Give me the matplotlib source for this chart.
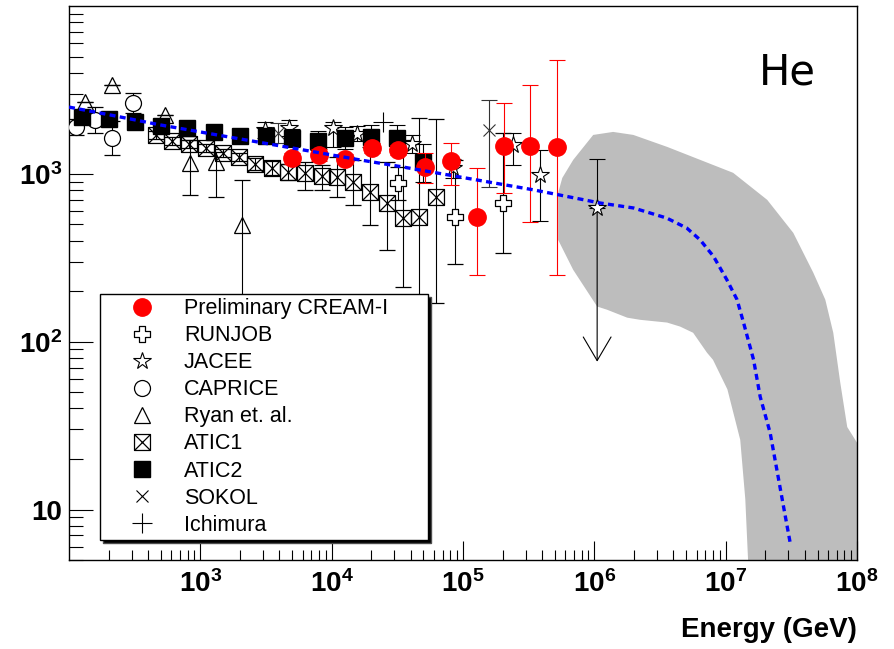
import matplotlib
matplotlib.use('Agg')
import matplotlib.pyplot as plt
from matplotlib.lines import Line2D
from matplotlib.path import Path
import numpy as np

plt.rcParams['font.family'] = ['Liberation Sans', 'DejaVu Sans']
plt.rcParams['mathtext.fontset'] = 'custom'
plt.rcParams['mathtext.bf'] = 'Liberation Sans:bold'
plt.rcParams['mathtext.rm'] = 'Liberation Sans:bold'

# --- data (energy in GeV, flux) ---
cream_e = [5.0e3, 8.0e3, 1.27e4, 2.03e4, 3.2e4, 5.1e4, 8.1e4, 1.28e5, 2.05e5, 3.25e5, 5.15e5]
cream_f = [1245, 1298, 1228, 1429, 1390, 1101, 1195, 555, 1468, 1468, 1449]
cream_lo = [1150, 1200, 1140, 1330, 1300, 884, 860, 251, 771, 518, 251]
cream_hi = [1340, 1400, 1320, 1530, 1480, 1334, 1530, 1085, 2650, 3390, 4770]

atic1_e = [460, 608, 820, 1104, 1489, 1972, 2612, 3516, 4656, 6266, 8453,
           1.1e4, 1.46e4, 1.96e4, 2.64e4, 3.5e4, 4.63e4, 6.24e4]
atic1_f = [1706, 1570, 1510, 1429, 1334, 1262, 1148, 1086, 1028, 1014, 973,
           959, 896, 781, 671, 547, 555, 729]
atic1_lo = [1620, 1490, 1430, 1350, 1260, 1190, 1060, 990, 920, 803, 803,
            729, 653, 497, 353, 212, 50, 171]
atic1_hi = [1800, 1660, 1600, 1510, 1410, 1340, 1240, 1190, 1150, 1179, 1131,
            1262, 1211, 1448, 1179, 1592, 2154, 2123]

atic2_e = [126, 200, 316, 500, 790, 1260, 2000, 3160, 5000, 7900, 1.26e4, 2.0e4, 3.16e4, 5.0e4]
atic2_f = [2183, 2123, 2042, 1932, 1880, 1778, 1683, 1683, 1637, 1570, 1637, 1660, 1637, 1178]
atic2_lo = [2100, 2040, 1960, 1850, 1790, 1680, 1570, 1550, 1450, 1380, 1400, 1420, 1400, 900]
atic2_hi = [2270, 2210, 2130, 2020, 1970, 1880, 1800, 1830, 1850, 1800, 1900, 1950, 1950, 1500]

caprice_e = [113, 158, 212, 307]
caprice_f = [1905, 2096, 1638, 2650]
caprice_lo = [1700, 1754, 1298, 2310]
caprice_hi = [2130, 2500, 2070, 3034]

ryan_e = [132, 212, 538, 835, 1318, 2080]
ryan_f = [2683, 3390, 2245, 1163, 1179, 497]
ryan_lo = [2683, 3390, 2245, 750, 729, 9]
ryan_hi = [2683, 3390, 2245, 1592, 1352, 920]

jacee_e = [3110, 4740, 1.03e4, 1.56e4, 4.09e4, 8.4e4, 2.41e5, 3.87e5, 1.05e6]
jacee_f = [1828, 1880, 1880, 1730, 1510, 1086, 1488, 986, 628]
jacee_lo = [1640, 1690, 1448, 1560, 1330, 950, 1131, 525, 628]
jacee_hi = [2030, 2080, 2042, 1920, 1700, 1230, 1754, 1390, 1228]
jacee_limit = 76  # arrow tip of the upper-limit point at 1e6 GeV

runjob_e = [3.2e4, 8.7e4, 2.02e5]
runjob_f = [884, 555, 671]
runjob_lo = [700, 291, 339]
runjob_hi = [1100, 1211, 1754]

sokol_e = [3910, 1.58e5]
sokol_f = [1754, 1830]
sokol_lo = [1530, 837]
sokol_hi = [2013, 2760]

ichimura_e = [2.46e4]
ichimura_f = [2042]

model_e = [100, 205, 493, 1589, 5106, 1.64e4, 3.32e4, 1.07e5, 3.44e5, 1.11e6, 1.99e6,
           3.56e6, 5.06e6, 6.39e6, 8.08e6, 1.02e7, 1.22e7, 1.37e7, 1.63e7, 1.83e7,
           2.18e7, 2.45e7, 2.75e7, 3.10e7]
model_f = [2500, 2245, 1958, 1667, 1422, 1211, 1106, 942, 803, 670, 626,
           545, 475, 404, 322, 234, 178, 129, 78, 47,
           28.6, 17.3, 10.5, 6.3]

band_upper_e = [5.3e5, 5.7e5, 6.9e5, 9.8e5, 1.39e6, 1.98e6, 3.58e6, 6.4e6, 1.14e7, 2.07e7,
                3.27e7, 4.64e7, 5.73e7, 6.59e7, 7.45e7, 8.42e7, 1.0e8, 1.2e8, 1.2e8]
band_upper_f = [771, 946, 1211, 1706, 1778, 1706, 1448, 1211, 1014, 700,
                445, 258, 178, 113, 57, 31, 25, 25, 1]
band_lower_e = [5.3e5, 6.9e5, 1.05e6, 1.25e6, 1.78e6, 2.23e6, 3.58e6, 4.5e6, 5.65e6,
                7.2e6, 8.0e6, 1.03e7, 1.29e7, 1.41e7, 1.48e7, 1.5e7]
band_lower_f = [404, 268, 162, 155, 139, 135, 130, 123, 113,
                86, 78, 52, 26, 11.5, 5.0, 1]

legend_labels = ['Preliminary CREAM-I', 'RUNJOB', 'JACEE', 'CAPRICE', 'Ryan et. al.',
                 'ATIC1', 'ATIC2', 'SOKOL', 'Ichimura']

# ROOT-like marker shapes
open_cross = Path([(-1/3, 1), (1/3, 1), (1/3, 1/3), (1, 1/3), (1, -1/3), (1/3, -1/3),
                   (1/3, -1), (-1/3, -1), (-1/3, -1/3), (-1, -1/3), (-1, 1/3), (-1/3, 1/3),
                   (-1/3, 1)],
                  [Path.MOVETO] + [Path.LINETO] * 11 + [Path.CLOSEPOLY])
boxed_x = Path([(-1, -1), (1, -1), (1, 1), (-1, 1), (-1, -1),
                (-1, -1), (1, 1), (-1, 1), (1, -1)],
               [Path.MOVETO, Path.LINETO, Path.LINETO, Path.LINETO, Path.CLOSEPOLY,
                Path.MOVETO, Path.LINETO, Path.MOVETO, Path.LINETO])


def yerr(f, lo, hi):
    f = np.asarray(f, float)
    return [f - np.asarray(lo, float), np.asarray(hi, float) - f]


fig = plt.figure(figsize=(8.95, 6.49), dpi=100)
ax = fig.add_axes([0.0771, 0.1371, 0.8805, 0.8536])
ax.set_xscale('log')
ax.set_yscale('log')
ax.set_xlim(1e2, 1e8)
ax.set_ylim(5, 1e4)

# uncertainty band of the model
poly_e = band_upper_e + band_lower_e[::-1]
poly_f = band_upper_f + band_lower_f[::-1]
ax.fill(poly_e, poly_f, color='#bdbdbd', lw=0, zorder=1)

eb = dict(ecolor='black', elinewidth=0.8, capsize=6, capthick=0.8, ls='none')

ax.errorbar(atic1_e, atic1_f, yerr=yerr(atic1_f, atic1_lo, atic1_hi), marker=boxed_x,
            ms=11.5, mfc='none', mec='black', mew=0.9, zorder=3, **eb)
ax.errorbar(atic2_e, atic2_f, yerr=yerr(atic2_f, atic2_lo, atic2_hi), marker='s',
            ms=11, mfc='black', mec='black', zorder=4, **eb)
ax.errorbar(caprice_e, caprice_f, yerr=yerr(caprice_f, caprice_lo, caprice_hi), marker='o',
            ms=11.5, mfc='white', mec='black', mew=0.9, zorder=3, **eb)
ax.errorbar(ryan_e, ryan_f, yerr=yerr(ryan_f, ryan_lo, ryan_hi), marker='^',
            ms=12, mfc='none', mec='black', mew=0.9, zorder=3, **eb)
ax.errorbar(jacee_e, jacee_f, yerr=yerr(jacee_f, jacee_lo, jacee_hi), marker='*',
            ms=13, mfc='white', mec='black', mew=0.8, zorder=3, **eb)
ax.errorbar(runjob_e, runjob_f, yerr=yerr(runjob_f, runjob_lo, runjob_hi), marker=open_cross,
            ms=12, mfc='white', mec='black', mew=0.9, zorder=3, **eb)
ax.errorbar(sokol_e, sokol_f, yerr=yerr(sokol_f, sokol_lo, sokol_hi), marker='x',
            ms=9, mfc='none', mec='#333333', mew=0.8, zorder=3,
            **{**eb, 'ecolor': '#333333'})
ax.plot(ichimura_e, ichimura_f, ls='none', marker='+', ms=14, mec='black', mew=0.8, zorder=3)

# upper limit arrow for the highest JACEE point
ax.annotate('', xy=(jacee_e[-1], jacee_limit), xytext=(jacee_e[-1], jacee_f[-1]),
            arrowprops=dict(arrowstyle='->,head_length=1.7,head_width=1.0',
                            color='black', lw=0.8, shrinkA=0, shrinkB=0), zorder=3)

ax.errorbar(cream_e, cream_f, yerr=yerr(cream_f, cream_lo, cream_hi), marker='o',
            ms=12.5, mfc='red', mec='red', ecolor='red', elinewidth=0.8, capsize=6,
            capthick=0.8, ls='none', zorder=5)

ax.plot(model_e, model_f, color='blue', lw=2.4, ls=(0, (1.8, 1.3)), zorder=6)

ax.text(0.912, 0.88, 'He', transform=ax.transAxes, fontsize=30, ha='center', va='center',
        family='DejaVu Sans')

# legend with proxy markers
handles = [
    Line2D([], [], ls='none', marker='o', ms=12.5, mfc='red', mec='red'),
    Line2D([], [], ls='none', marker=open_cross, ms=12, mfc='white', mec='black', mew=0.9),
    Line2D([], [], ls='none', marker='*', ms=13, mfc='white', mec='black', mew=0.8),
    Line2D([], [], ls='none', marker='o', ms=11.5, mfc='white', mec='black', mew=0.9),
    Line2D([], [], ls='none', marker='^', ms=12, mfc='none', mec='black', mew=0.9),
    Line2D([], [], ls='none', marker=boxed_x, ms=11.5, mfc='none', mec='black', mew=0.9),
    Line2D([], [], ls='none', marker='s', ms=11, mfc='black', mec='black'),
    Line2D([], [], ls='none', marker='x', ms=9, mec='black', mew=0.8),
    Line2D([], [], ls='none', marker='+', ms=14, mec='black', mew=0.8),
]
leg = ax.legend(handles, legend_labels, loc='upper left',
                bbox_to_anchor=(0.0393, 0.0415, 0.4162, 0.4386), mode='expand',
                fontsize=15.5, frameon=True, fancybox=False, edgecolor='black',
                framealpha=1, borderpad=0.2, labelspacing=0.28, handlelength=3.5,
                handletextpad=0.2, borderaxespad=0,
                shadow={'facecolor': 'black', 'alpha': 1})
leg.get_frame().set_linewidth(1.0)
leg.set_zorder(10)

# ROOT-style axes: inward ticks on left and bottom only
for s in ax.spines.values():
    s.set_linewidth(1.0)
ax.tick_params(which='both', direction='in', top=False, right=False, width=0.8)
ax.tick_params(axis='y', which='major', length=17, pad=5)
ax.tick_params(axis='y', which='minor', length=10)
ax.tick_params(axis='x', which='major', length=14, pad=7)
ax.tick_params(axis='x', which='minor', length=7)

ax.set_xticks([1e3, 1e4, 1e5, 1e6, 1e7, 1e8])
ax.set_xticklabels([r'$\mathbf{10^{%d}}$' % k for k in range(3, 9)],
                   fontsize=20, fontweight='bold')
ax.set_yticks([10, 100, 1000])
ax.set_yticklabels(['10', r'$\mathbf{10^{2}}$', r'$\mathbf{10^{3}}$'],
                   fontsize=20, fontweight='bold')
ax.set_xlabel('Energy (GeV)', fontsize=20, fontweight='bold', loc='right', labelpad=14)

fig.savefig('out.png', dpi=100)
